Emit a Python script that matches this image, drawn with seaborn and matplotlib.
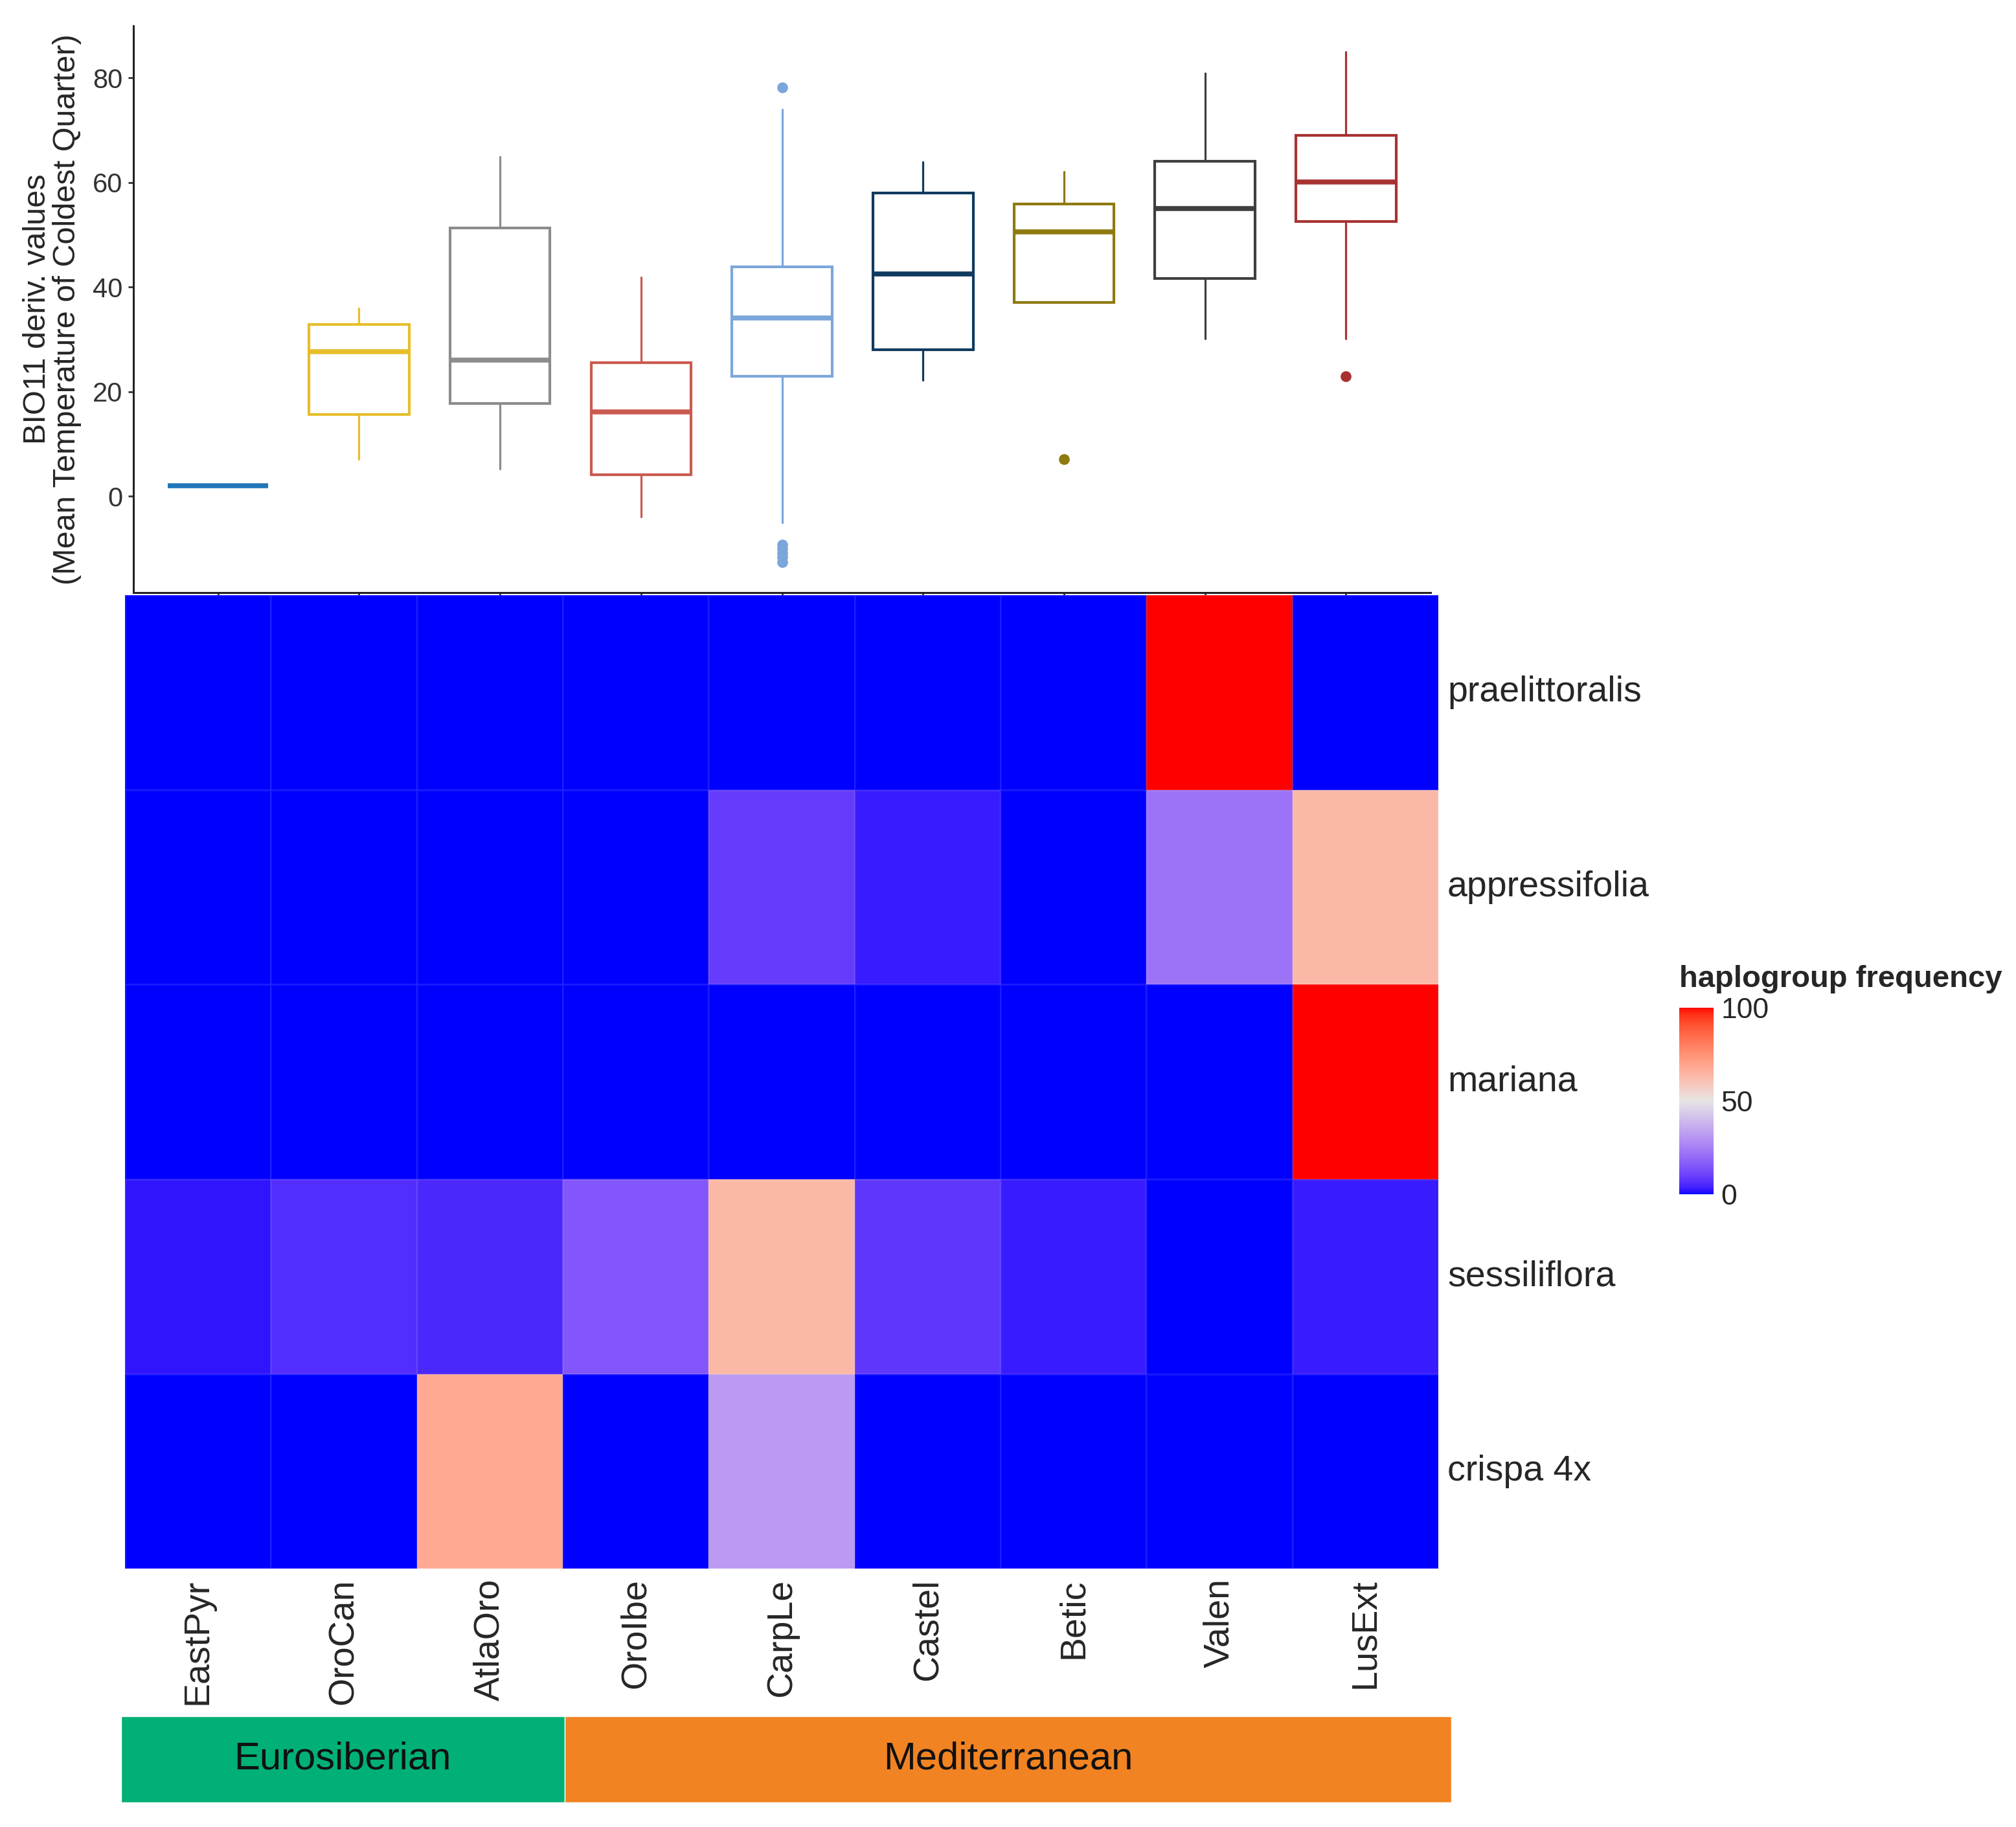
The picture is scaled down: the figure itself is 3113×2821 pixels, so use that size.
import numpy as np
import pandas as pd
import seaborn as sns
import matplotlib.pyplot as plt
from matplotlib.colors import ListedColormap, to_rgb

populations = ["EastPyr", "OroCan", "AtlaOro", "OroIbe", "CarpLe", "Castel", "Betic", "Valen", "LusExt"]
haplogroups = ["praelittoralis", "appressifolia", "mariana", "sessiliflora", "crispa 4x"]

# BIO11 boxplot stats
bio_whislo = [2.0, 7.1, 5.2, -3.9, -5.0, 22.2, 37.0, 30.1, 30.1]
bio_q1 = [2.0, 15.6, 17.8, 4.1, 23.0, 28.0, 37.0, 41.7, 52.5]
bio_med = [2.0, 27.6, 26.1, 16.1, 34.1, 42.5, 50.5, 55.0, 60.1]
bio_q3 = [2.0, 32.9, 51.3, 25.5, 43.9, 58.0, 55.9, 64.1, 69.0]
bio_whishi = [2.0, 35.9, 64.9, 41.9, 73.9, 63.9, 62.0, 80.9, 85.0]
bio_outliers = [[], [], [], [], [78.1, -9.2, -10.0, -10.8, -11.6, -12.6], [], [7.1], [], [23.0]]
box_colors = ["#1F77B9", "#E6BE2C", "#8C8C8C", "#CB5A50", "#7BA6DA",
              "#103A60", "#8F7A10", "#3F3F3F", "#A83232"]

# haplogroup frequency (%) per population
freq_praelittoralis = [0, 0, 0, 0, 0, 0, 0, 100, 0]
freq_appressifolia = [0, 0, 0, 0, 9, 3, 0, 22, 64]
freq_mariana = [0, 0, 0, 0, 0, 0, 0, 0, 100]
freq_sessiliflora = [2, 6, 5, 15, 64, 8, 3, 0, 3]
freq_crispa = [0, 0, 68, 0, 32, 0, 0, 0, 0]

regions = ["Eurosiberian", "Mediterranean"]
region_sizes = [3, 6]
region_colors = ["#00B077", "#F28322"]

sns.set_style("ticks")
plt.rcParams["font.family"] = ["Liberation Sans", "DejaVu Sans"]

# ggplot-like gradient2 (blue - light grey - red), interpolated in Lab
M = np.array([[0.4124, 0.3576, 0.1805], [0.2126, 0.7152, 0.0722], [0.0193, 0.1192, 0.9505]])
WHITE = np.array([0.95047, 1.0, 1.08883])


def to_lab(c):
    rgb = np.array(to_rgb(c))
    lin = np.where(rgb <= 0.04045, rgb / 12.92, ((rgb + 0.055) / 1.055) ** 2.4)
    xyz = M @ lin / WHITE
    f = np.where(xyz > (6 / 29) ** 3, np.cbrt(xyz), xyz / (3 * (6 / 29) ** 2) + 4 / 29)
    return np.array([116 * f[1] - 16, 500 * (f[0] - f[1]), 200 * (f[1] - f[2])])


def from_lab(lab):
    fy = (lab[0] + 16) / 116
    f = np.array([fy + lab[1] / 500, fy, fy - lab[2] / 200])
    xyz = np.where(f > 6 / 29, f ** 3, 3 * (6 / 29) ** 2 * (f - 4 / 29)) * WHITE
    lin = np.clip(np.linalg.solve(M, xyz), 0, 1)
    rgb = np.where(lin <= 0.0031308, 12.92 * lin, 1.055 * lin ** (1 / 2.4) - 0.055)
    return np.clip(rgb, 0, 1)


lo, mid, hi = to_lab("blue"), to_lab("#E5E5E5"), to_lab("red")
cols = []
for t in np.linspace(0, 1, 256):
    if t < 0.5:
        cols.append(from_lab(lo + (mid - lo) * t / 0.5))
    else:
        cols.append(from_lab(mid + (hi - mid) * (t - 0.5) / 0.5))
cmap = ListedColormap(cols)

fig = plt.figure(figsize=(31.13, 28.21), dpi=100)

# ---- boxplot panel
ax_b = fig.add_axes([0.0662, 0.6756, 0.6434, 0.3102])
stats = []
for i in range(len(populations)):
    stats.append(dict(whislo=bio_whislo[i], q1=bio_q1[i], med=bio_med[i], q3=bio_q3[i],
                      whishi=bio_whishi[i], fliers=bio_outliers[i]))
bp = ax_b.bxp(stats, positions=range(len(populations)), widths=0.71, showcaps=False,
              showfliers=True, patch_artist=True)
for i, c in enumerate(box_colors):
    bp["boxes"][i].set(facecolor="white", edgecolor=c, linewidth=3)
    bp["medians"][i].set(color=c, linewidth=5.5, solid_capstyle="butt")
    for w in bp["whiskers"][2 * i:2 * i + 2]:
        w.set(color=c, linewidth=2.3)
    bp["fliers"][i].set(marker="o", markerfacecolor=c, markeredgecolor=c, markersize=11)
ax_b.set_xlim(-0.6, 8.6)
ax_b.set_ylim(-18.4, 89.9)
ax_b.set_yticks([0, 20, 40, 60, 80])
ax_b.set_xticks(range(len(populations)))
ax_b.set_xticklabels([])
ax_b.tick_params(axis="both", length=6, width=2, color="#333333", labelsize=30,
                 labelcolor="#333333", pad=6)
ax_b.set_ylabel("BIO11 deriv. values\n(Mean Temperature of Coldest Quarter)",
                fontsize=35, labelpad=12, linespacing=1.05)
for s in ["top", "right"]:
    ax_b.spines[s].set_visible(False)
for s in ["left", "bottom"]:
    ax_b.spines[s].set_linewidth(2.2)
    ax_b.spines[s].set_color("#222222")

# ---- heatmap panel
freq = pd.DataFrame([freq_praelittoralis, freq_appressifolia, freq_mariana,
                     freq_sessiliflora, freq_crispa], index=haplogroups, columns=populations)
ax_h = fig.add_axes([0.062, 0.1414, 0.6515, 0.5328])
cax = fig.add_axes([0.833, 0.3463, 0.017, 0.1021])
sns.heatmap(freq, cmap=cmap, vmin=0, vmax=100, ax=ax_h, cbar_ax=cax,
            linewidths=0.8, linecolor=(1, 1, 1, 0.08),
            cbar_kws={"ticks": [0, 50, 100]})
ax_h.yaxis.tick_right()
ax_h.set_yticklabels(haplogroups, rotation=0, ha="left", va="center", fontsize=40)
ax_h.set_xticklabels(populations, rotation=90, ha="center", va="top", fontsize=40)
ax_h.tick_params(axis="y", length=0, pad=10)
ax_h.tick_params(axis="x", length=0, pad=11)
ax_h.set_xlabel("")
ax_h.set_ylabel("")

cbar = ax_h.collections[0].colorbar
cbar.outline.set_visible(False)
cbar.ax.tick_params(direction="in", length=9, width=2.5, color="white",
                    left=True, right=True, labelsize=32, pad=8)
fig.text(0.833, 0.464, "haplogroup frequency", fontsize=34, fontweight="bold",
         ha="left", va="center")

# ---- region strip
ax_r = fig.add_axes([0.060, 0.0135, 0.660, 0.0471])
starts = np.cumsum([0] + region_sizes[:-1])
ax_r.barh(0, region_sizes, left=starts, height=1, color=region_colors, align="center")
for name, s0, n in zip(regions, starts, region_sizes):
    ax_r.text(s0 + n / 2, 0, name, ha="center", va="center", fontsize=43, color="#111111")
ax_r.set_xlim(0, sum(region_sizes))
ax_r.set_ylim(-0.5, 0.5)
ax_r.axis("off")

fig.savefig("out.png", dpi=100)
